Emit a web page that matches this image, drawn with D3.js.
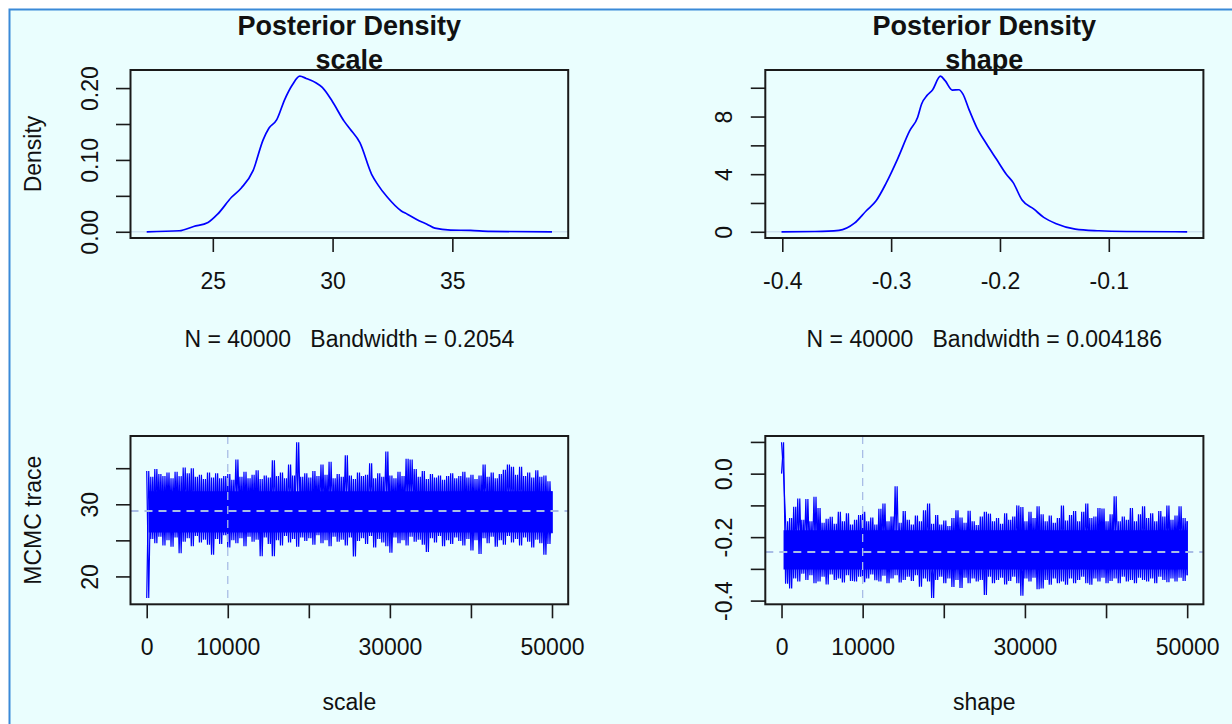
<!DOCTYPE html>
<html>
<head>
<meta charset="utf-8">
<script src="https://cdn.jsdelivr.net/npm/d3@7"></script>
<style>
  body { margin: 0; background: #fff; }
  svg text { font-family: "Liberation Sans", Arial, Helvetica, sans-serif; fill: #111; white-space: pre; }
</style>
</head>
<body>
<svg id="chart" width="1232" height="724"></svg>
<script>
// ---- data ----
const scaleDensX = [22.24, 23.6, 24.2, 24.8, 25.2, 25.78, 26.19, 26.68, 27.1, 27.34, 27.67, 28.0, 28.33, 28.63, 28.9, 29.32, 29.57, 29.98, 30.48, 30.73, 31.14, 31.63, 31.88, 32.29, 32.87, 33.12, 33.61, 33.94, 34.27, 34.93, 35.76, 36.58, 39.16];
const scaleDensY = [0, 0.0014, 0.0074, 0.013, 0.0245, 0.048, 0.061, 0.085, 0.128, 0.144, 0.156, 0.184, 0.205, 0.2165, 0.2134, 0.207, 0.201, 0.182, 0.154, 0.143, 0.124, 0.080, 0.066, 0.048, 0.029, 0.0245, 0.0153, 0.0106, 0.005, 0.0023, 0.0019, 0.0005, 0];

const shapeDensX = [-0.4007, -0.370, -0.348, -0.3337, -0.3228, -0.3138, -0.3047, -0.2938, -0.283, -0.2757, -0.272, -0.2667, -0.262, -0.2547, -0.2504, -0.2438, -0.2377, -0.234, -0.2286, -0.2214, -0.2123, -0.2033, -0.1942, -0.188, -0.1797, -0.1688, -0.1598, -0.1489, -0.1308, -0.109, -0.0837, -0.028];
const shapeDensY = [0, 0.02, 0.1, 0.6, 1.46, 2.15, 3.36, 5.1, 7.0, 7.94, 8.87, 9.49, 9.85, 10.8, 10.49, 9.84, 9.86, 9.56, 8.52, 7.25, 6.09, 5.05, 4.0, 3.43, 2.2, 1.57, 1.0, 0.58, 0.19, 0.07, 0.02, 0];

// MCMC traces: local low / high of the chain in every block of 500 iterations
const traceStep = 500;
const scaleTraceLo = [17.0, 25.2, 24.6, 25.5, 24.3, 25.0, 24.1, 25.4, 23.2, 24.8, 25.3, 24.2, 25.6, 24.7, 25.1, 24.4, 23.0, 25.2, 24.5, 25.7, 24.0, 25.0, 24.6, 25.3, 24.2, 25.5, 24.8, 25.1, 22.8, 25.4, 24.5, 22.8, 25.0, 24.3, 25.6, 24.7, 25.2, 24.1, 25.4, 24.9, 25.3, 24.4, 25.7, 24.6, 25.0, 24.2, 25.5, 24.8, 25.1, 24.3, 25.4, 22.75, 24.9, 25.3, 24.5, 25.6, 24.0, 25.2, 24.7, 24.2, 23.3, 25.4, 24.6, 25.0, 24.3, 25.5, 24.8, 25.1, 24.4, 23.4, 25.3, 24.7, 25.6, 24.2, 25.0, 24.5, 25.4, 24.9, 24.3, 25.2, 23.6, 25.0, 23.1, 25.3, 24.6, 25.5, 24.1, 25.0, 24.4, 25.6, 24.7, 25.2, 24.3, 25.4, 24.8, 24.0, 25.1, 24.6, 23.0, 24.5, 26.0];
const scaleTraceHi = [34.6, 33.8, 34.9, 34.2, 33.9, 34.4, 33.6, 34.5, 33.9, 35.1, 34.3, 35.0, 33.8, 34.1, 33.5, 34.4, 33.7, 34.3, 33.6, 33.9, 34.2, 33.4, 36.2, 33.8, 34.5, 33.6, 34.1, 34.7, 33.5, 34.0, 33.7, 36.1, 33.9, 34.4, 33.6, 35.5, 34.0, 38.6, 33.8, 34.3, 33.7, 34.6, 33.9, 35.5, 34.1, 35.9, 33.6, 34.2, 33.8, 36.8, 34.0, 33.5, 34.4, 33.9, 34.1, 35.7, 33.6, 34.3, 33.8, 37.3, 34.0, 33.6, 34.5, 33.9, 36.3, 36.2, 34.9, 33.8, 34.6, 33.5, 34.2, 33.7, 34.0, 33.4, 33.9, 34.3, 33.6, 33.9, 34.5, 33.7, 34.1, 33.5, 34.0, 35.5, 33.8, 34.4, 33.6, 34.2, 34.8, 35.5, 35.2, 34.1, 35.2, 33.9, 34.4, 33.7, 34.7, 33.8, 34.0, 33.2, 31.8];
const scaleTraceCore = [26.1, 31.8];   // range the chain fills solidly

const shapeTraceLo = [0.0, -0.347, -0.362, -0.330, -0.340, -0.315, -0.335, -0.320, -0.345, -0.340, -0.325, -0.349, -0.318, -0.335, -0.330, -0.343, -0.320, -0.338, -0.340, -0.325, -0.342, -0.330, -0.318, -0.336, -0.340, -0.322, -0.345, -0.330, -0.320, -0.343, -0.335, -0.325, -0.338, -0.320, -0.356, -0.330, -0.340, -0.392, -0.335, -0.325, -0.345, -0.330, -0.357, -0.335, -0.360, -0.328, -0.345, -0.330, -0.340, -0.335, -0.382, -0.325, -0.345, -0.335, -0.328, -0.349, -0.338, -0.325, -0.345, -0.385, -0.330, -0.340, -0.328, -0.364, -0.362, -0.335, -0.350, -0.330, -0.345, -0.340, -0.350, -0.330, -0.345, -0.335, -0.325, -0.345, -0.350, -0.330, -0.340, -0.328, -0.345, -0.338, -0.330, -0.345, -0.325, -0.340, -0.335, -0.345, -0.328, -0.335, -0.340, -0.330, -0.345, -0.325, -0.335, -0.342, -0.330, -0.340, -0.328, -0.338, -0.320];
const shapeTraceHi = [0.099, -0.150, -0.140, -0.104, -0.078, -0.145, -0.080, -0.150, -0.073, -0.108, -0.155, -0.142, -0.136, -0.158, -0.120, -0.150, -0.125, -0.160, -0.145, -0.130, -0.120, -0.150, -0.138, -0.160, -0.111, -0.094, -0.150, -0.135, -0.040, -0.155, -0.118, -0.145, -0.160, -0.132, -0.150, -0.115, -0.094, -0.158, -0.130, -0.160, -0.148, -0.165, -0.140, -0.115, -0.138, -0.155, -0.117, -0.150, -0.162, -0.135, -0.120, -0.126, -0.150, -0.140, -0.158, -0.125, -0.145, -0.135, -0.100, -0.105, -0.150, -0.120, -0.140, -0.103, -0.128, -0.150, -0.132, -0.155, -0.140, -0.100, -0.148, -0.130, -0.118, -0.150, -0.120, -0.094, -0.140, -0.135, -0.108, -0.110, -0.150, -0.128, -0.071, -0.150, -0.135, -0.145, -0.108, -0.150, -0.128, -0.103, -0.140, -0.125, -0.150, -0.118, -0.135, -0.100, -0.145, -0.132, -0.103, -0.140, -0.150];
const shapeTraceCore = [-0.302, -0.178];

const scaleMean = 29.08, shapeMean = -0.247, burnIn = 10000;

// ticks and labels ("" = tick without label, as R drops overlapping ones)
const scaleDensXTicks = [25, 30, 35], scaleDensXLabels = ["25", "30", "35"];
const scaleDensYTicks = [0, 0.05, 0.10, 0.15, 0.20], scaleDensYLabels = ["0.00", "", "0.10", "", "0.20"];
const shapeDensXTicks = [-0.4, -0.3, -0.2, -0.1], shapeDensXLabels = ["-0.4", "-0.3", "-0.2", "-0.1"];
const shapeDensYTicks = [0, 2, 4, 6, 8, 10], shapeDensYLabels = ["0", "", "4", "", "8", ""];
const iterTicks = [0, 10000, 20000, 30000, 40000, 50000], iterLabels = ["0", "10000", "", "30000", "", "50000"];
const scaleTraceYTicks = [20, 25, 30, 35], scaleTraceYLabels = ["20", "", "30", ""];
const shapeTraceYTicks = [-0.4, -0.3, -0.2, -0.1, 0.0, 0.1], shapeTraceYLabels = ["-0.4", "", "-0.2", "", "0.0", ""];

const densTitle = "Posterior Density";
const paramNames = ["scale", "shape"];
const densNotes = ["N = 40000   Bandwidth = 0.2054", "N = 40000   Bandwidth = 0.004186"];

// ---- layout ----
const W = 1232, H = 724;
const boxes = {
  scaleDens: { l: 130.5, r: 568.2, t: 70, b: 238 },
  shapeDens: { l: 765.3, r: 1203.4, t: 70, b: 238 },
  scaleTrace: { l: 130.5, r: 568.2, t: 436, b: 604.3 },
  shapeTrace: { l: 765.3, r: 1203.4, t: 436, b: 604.3 }
};
const blue = "#0000ff", refCol = "#a9bde6", axisCol = "#1a1a1a";
const fs = 23;

const svg = d3.select("#chart");
svg.append("rect").attr("width", W).attr("height", H).attr("fill", "#fff");
svg.append("rect")
  .attr("x", 9.5).attr("y", 9.5).attr("width", W + 10).attr("height", H + 10)
  .attr("fill", "#eafefe").attr("stroke", "#3a8ad8").attr("stroke-width", 2);

// R style: range of data plus 4% each side
function ext4(arr) {
  const [a, b] = d3.extent(arr);
  const d = (b - a) * 0.04;
  return [a - d, b + d];
}

function axes(box, x, y, xTicks, xLabels, yTicks, yLabels) {
  const gx = svg.append("g").attr("transform", `translate(0,${box.b})`)
    .call(d3.axisBottom(x).tickValues(xTicks)
      .tickFormat((d, i) => xLabels[i]).tickSize(14).tickSizeOuter(0));
  const gy = svg.append("g").attr("transform", `translate(${box.l},0)`)
    .call(d3.axisLeft(y).tickValues(yTicks)
      .tickFormat((d, i) => yLabels[i]).tickSize(14.5).tickSizeOuter(0));
  [gx, gy].forEach(g => {
    g.select(".domain").remove();
    g.selectAll(".tick line").attr("stroke", axisCol).attr("stroke-width", 1.6);
    g.selectAll("text").attr("font-size", fs).attr("fill", "#111");
  });
  gx.selectAll("text").attr("y", 50.5).attr("dy", 0);
  gy.selectAll("text")
    .attr("transform", "rotate(-90)")
    .attr("x", 0).attr("y", -33).attr("dy", 0)
    .attr("text-anchor", "middle");
}

function frameBox(box) {
  svg.append("rect")
    .attr("x", box.l).attr("y", box.t)
    .attr("width", box.r - box.l).attr("height", box.b - box.t)
    .attr("fill", "none").attr("stroke", axisCol).attr("stroke-width", 2);
}

function densityPanel(box, xs, ys, xTicks, xLabels, yTicks, yLabels, name, note, yTitle) {
  const x = d3.scaleLinear().domain(ext4(xs)).range([box.l, box.r]);
  const y = d3.scaleLinear().domain(ext4([0, d3.max(ys)])).range([box.b, box.t]);
  const cx = (box.l + box.r) / 2;

  // faint zero line
  svg.append("line")
    .attr("x1", box.l).attr("x2", box.r).attr("y1", y(0)).attr("y2", y(0))
    .attr("stroke", "#cfe3f2").attr("stroke-width", 1.5);

  const pts = xs.map((v, i) => [v, ys[i]]);
  svg.append("path").datum(pts)
    .attr("d", d3.line().x(d => x(d[0])).y(d => y(d[1])).curve(d3.curveMonotoneX))
    .attr("fill", "none").attr("stroke", blue).attr("stroke-width", 1.7);

  frameBox(box);
  axes(box, x, y, xTicks, xLabels, yTicks, yLabels);

  svg.append("text").attr("x", cx).attr("y", 35).attr("text-anchor", "middle")
    .attr("font-size", 27).attr("font-weight", "bold").text(densTitle);
  svg.append("text").attr("x", cx).attr("y", 68.5).attr("text-anchor", "middle")
    .attr("font-size", 27).attr("font-weight", "bold").text(name);
  svg.append("text").attr("x", cx).attr("y", 346.5).attr("text-anchor", "middle")
    .attr("font-size", fs).attr("xml:space", "preserve").text(note);
  if (yTitle) {
    svg.append("text")
      .attr("transform", `translate(41,${(box.t + box.b) / 2}) rotate(-90)`)
      .attr("text-anchor", "middle").attr("font-size", fs).text(yTitle);
  }
}

function tracePanel(box, lo, hi, core, mean, yTicks, yLabels, name, yTitle) {
  const iters = lo.map((d, i) => i * traceStep);
  const last = iters[iters.length - 1];
  const x = d3.scaleLinear().domain(ext4(iters)).range([box.l, box.r]);
  const y = d3.scaleLinear().domain(ext4(lo.concat(hi))).range([box.b, box.t]);
  const half = traceStep / 2;

  const clip = "clip-" + name;
  svg.append("clipPath").attr("id", clip).append("rect")
    .attr("x", box.l).attr("y", box.t).attr("width", box.r - box.l).attr("height", box.b - box.t);
  const g = svg.append("g").attr("clip-path", `url(#${clip})`);

  // solid body of the chain
  g.append("path")
    .datum([[iters[1] / 2, core], [last, core]])
    .attr("d", d3.area().x(d => x(d[0])).y0(d => y(d[1][0])).y1(d => y(d[1][1])))
    .attr("fill", blue);

  // two crossing zig-zags between block lows and highs
  const a = [], b = [];
  lo.forEach((v, i) => {
    const xm = Math.min(iters[i] + half, last);
    a.push([iters[i], v], [xm, hi[i]]);
    b.push([iters[i], hi[i]], [xm, v]);
  });
  const line = d3.line().x(d => x(d[0])).y(d => y(d[1]));
  [a, b].forEach(p => g.append("path").datum(p).attr("d", line)
    .attr("fill", "none").attr("stroke", blue).attr("stroke-width", 1.2));

  g.append("line")
    .attr("x1", box.l).attr("x2", box.r).attr("y1", y(mean)).attr("y2", y(mean))
    .attr("stroke", refCol).attr("stroke-width", 2).attr("stroke-dasharray", "8,6");
  g.append("line")
    .attr("x1", x(burnIn)).attr("x2", x(burnIn)).attr("y1", box.t).attr("y2", box.b)
    .attr("stroke", refCol).attr("stroke-width", 1.3).attr("stroke-dasharray", "8,6");

  frameBox(box);
  axes(box, x, y, iterTicks, iterLabels, yTicks, yLabels);

  svg.append("text").attr("x", (box.l + box.r) / 2).attr("y", 710)
    .attr("text-anchor", "middle").attr("font-size", fs).text(name);
  if (yTitle) {
    svg.append("text")
      .attr("transform", `translate(41,${(box.t + box.b) / 2}) rotate(-90)`)
      .attr("text-anchor", "middle").attr("font-size", fs).text(yTitle);
  }
}

densityPanel(boxes.scaleDens, scaleDensX, scaleDensY, scaleDensXTicks, scaleDensXLabels,
  scaleDensYTicks, scaleDensYLabels, paramNames[0], densNotes[0], "Density");
densityPanel(boxes.shapeDens, shapeDensX, shapeDensY, shapeDensXTicks, shapeDensXLabels,
  shapeDensYTicks, shapeDensYLabels, paramNames[1], densNotes[1], null);
tracePanel(boxes.scaleTrace, scaleTraceLo, scaleTraceHi, scaleTraceCore, scaleMean,
  scaleTraceYTicks, scaleTraceYLabels, paramNames[0], "MCMC trace");
tracePanel(boxes.shapeTrace, shapeTraceLo, shapeTraceHi, shapeTraceCore, shapeMean,
  shapeTraceYTicks, shapeTraceYLabels, paramNames[1], null);
</script>
</body>
</html>
